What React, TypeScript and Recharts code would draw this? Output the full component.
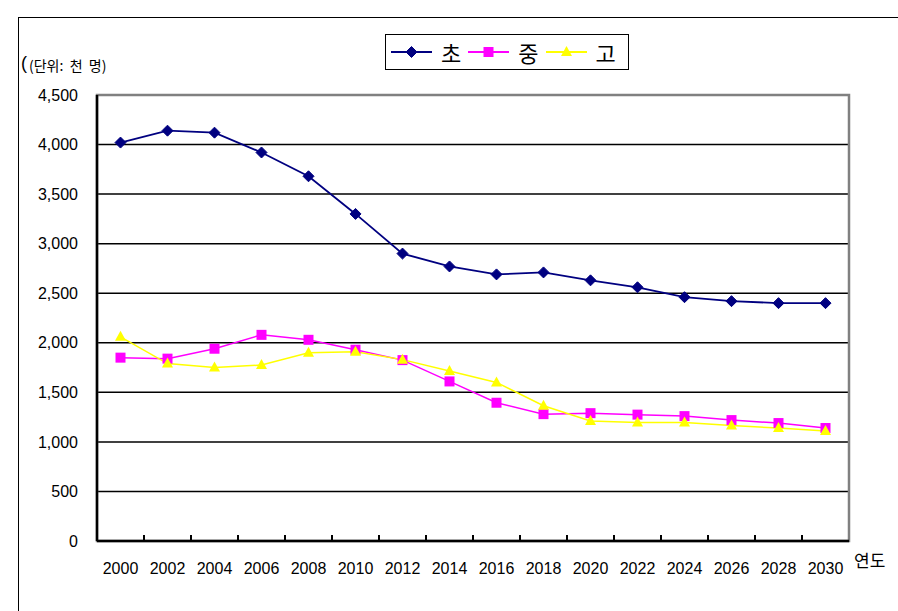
import React from "react";
import { LineChart, Line, XAxis, YAxis, CartesianGrid, ReferenceArea } from "recharts";

// 연도별 학생 수 (단위: 천 명)
const years = [
  "2000", "2002", "2004", "2006", "2008", "2010", "2012", "2014",
  "2016", "2018", "2020", "2022", "2024", "2026", "2028", "2030",
];
const elementary = [4020, 4140, 4120, 3920, 3680, 3300, 2900, 2770, 2690, 2710, 2630, 2560, 2460, 2420, 2400, 2400];
const middle = [1850, 1840, 1940, 2080, 2030, 1930, 1825, 1610, 1395, 1280, 1290, 1275, 1260, 1220, 1190, 1140];
const high = [2060, 1790, 1750, 1775, 1900, 1910, 1830, 1715, 1600, 1365, 1210, 1195, 1195, 1165, 1140, 1110];
const yTicks = [0, 500, 1000, 1500, 2000, 2500, 3000, 3500, 4000, 4500];
const seriesNames = ["초", "중", "고"];

const NUM_FONT = '"Liberation Sans", Arial, sans-serif';
const KR_FONT = '"Noto Sans CJK KR", "Noto Sans", sans-serif';

const NAVY = "#000080";
const MAGENTA = "#FF00FF";
const YELLOW = "#FFFF00";

const rows = years.map((year, i) => ({
  year,
  e: elementary[i],
  m: middle[i],
  h: high[i],
}));

function Diamond({ cx, cy }: any) {
  if (cx == null || cy == null) return null;
  const r = 5.5;
  return (
    <polygon
      points={`${cx},${cy - r} ${cx + r},${cy} ${cx},${cy + r} ${cx - r},${cy}`}
      fill={NAVY}
      stroke={NAVY}
    />
  );
}

function Square({ cx, cy }: any) {
  if (cx == null || cy == null) return null;
  return <rect x={cx - 5} y={cy - 5} width={10} height={10} fill={MAGENTA} />;
}

function Triangle({ cx, cy }: any) {
  if (cx == null || cy == null) return null;
  return (
    <polygon
      points={`${cx},${cy - 6} ${cx + 5.5},${cy + 4} ${cx - 5.5},${cy + 4}`}
      fill={YELLOW}
    />
  );
}

const markers = [Diamond, Square, Triangle];
const colors = [NAVY, MAGENTA, YELLOW];

// x 눈금: 라벨은 가운데, 눈금선은 구간 경계에 위쪽으로
function YearTick(props: any) {
  const { x, y, payload, index } = props;
  const axisY = y - 8;
  const half = payload.offset || 0;
  return (
    <g>
      <text
        x={x}
        y={y + 25}
        textAnchor="middle"
        fill="#000"
        fontSize={16}
        fontFamily={NUM_FONT}
      >
        {payload.value}
      </text>
      {index < years.length - 1 && (
        <line x1={x + half} y1={axisY} x2={x + half} y2={axisY - 6} stroke="#000" strokeWidth={2} />
      )}
    </g>
  );
}

function LegendBox() {
  return (
    <div
      style={{
        position: "absolute",
        left: 385,
        top: 34,
        width: 244,
        height: 36,
        boxSizing: "border-box",
        border: "1.5px solid #000",
        background: "#fff",
        display: "flex",
        alignItems: "center",
        paddingLeft: 5,
      }}
    >
      {seriesNames.map((name, i) => {
        const Marker = markers[i];
        return (
          <div key={name} style={{ display: "flex", alignItems: "center", marginRight: 7 }}>
            <svg width={41} height={14} style={{ display: "block" }}>
              <line x1={0} y1={7} x2={41} y2={7} stroke={colors[i]} strokeWidth={2} />
              <Marker cx={20.5} cy={7} />
            </svg>
            <span
              style={{
                marginLeft: 9,
                fontSize: 22,
                lineHeight: 1,
                fontFamily: KR_FONT,
                color: "#000",
              }}
            >
              {name}
            </span>
          </div>
        );
      })}
    </div>
  );
}

export default function App() {
  return (
    <div
      style={{
        position: "absolute",
        left: 0,
        top: 0,
        width: 898,
        height: 611,
        overflow: "hidden",
        background: "#fff",
      }}
    >
      <div
        style={{
          position: "absolute",
          left: 18,
          top: 17,
          width: 880,
          height: 594,
          borderTop: "1.5px solid #000",
          borderLeft: "1.5px solid #000",
        }}
      />
      <LineChart
        width={898}
        height={611}
        data={rows}
        margin={{ top: 95, right: 49, bottom: 0, left: 17 }}
      >
        <CartesianGrid vertical={false} stroke="#000" strokeWidth={1.5} />
        <ReferenceArea
          y1={0}
          y2={4500}
          fill="none"
          stroke="#808080"
          strokeWidth={2.5}
          ifOverflow="visible"
        />
        <XAxis
          dataKey="year"
          scale="band"
          interval={0}
          height={70}
          tickLine={false}
          axisLine={{ stroke: "#000", strokeWidth: 2.5 }}
          tick={<YearTick />}
        />
        <YAxis
          width={80}
          domain={[0, 4500]}
          ticks={yTicks}
          interval={0}
          tickLine={false}
          tickSize={0}
          tickMargin={19}
          axisLine={{ stroke: "#000", strokeWidth: 2.5 }}
          tickFormatter={(v: number) => v.toLocaleString("en-US")}
          tick={{ fill: "#000", fontSize: 16, fontFamily: NUM_FONT }}
        />
        <Line
          dataKey="e"
          name={seriesNames[0]}
          stroke={NAVY}
          strokeWidth={1.8}
          dot={(p: any) => <Diamond key={`e${p.index}`} {...p} />}
          activeDot={false}
          isAnimationActive={false}
        />
        <Line
          dataKey="m"
          name={seriesNames[1]}
          stroke={MAGENTA}
          strokeWidth={1.5}
          dot={(p: any) => <Square key={`m${p.index}`} {...p} />}
          activeDot={false}
          isAnimationActive={false}
        />
        <Line
          dataKey="h"
          name={seriesNames[2]}
          stroke={YELLOW}
          strokeWidth={1.5}
          dot={(p: any) => <Triangle key={`h${p.index}`} {...p} />}
          activeDot={false}
          isAnimationActive={false}
        />
      </LineChart>
      <LegendBox />
      <div
        style={{
          position: "absolute",
          left: 21,
          top: 54,
          fontSize: 18,
          lineHeight: 1,
          fontFamily: NUM_FONT,
          color: "#000",
        }}
      >
        (
      </div>
      <div
        style={{
          position: "absolute",
          left: 29,
          top: 58,
          fontSize: 14,
          lineHeight: 1,
          fontFamily: KR_FONT,
          color: "#000",
          whiteSpace: "pre",
        }}
      >
        (단위:  천  명)
      </div>
      <div
        style={{
          position: "absolute",
          left: 854,
          top: 551,
          fontSize: 17,
          lineHeight: 1,
          fontFamily: KR_FONT,
          color: "#000",
        }}
      >
        연도
      </div>
    </div>
  );
}
